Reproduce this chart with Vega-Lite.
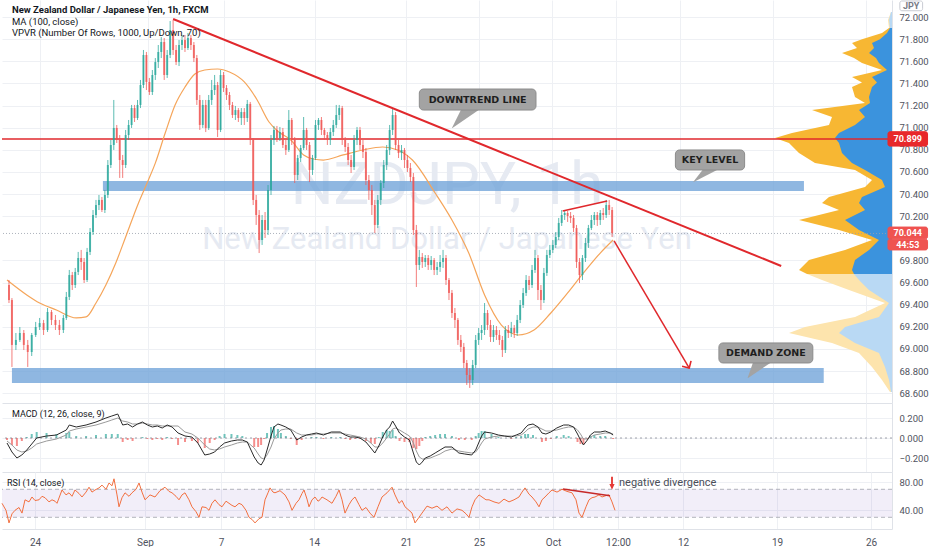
{
"$schema":"https://vega.github.io/schema/vega-lite/v6.json",
"padding":0,
"background":"#ffffff",
"spacing":0,
"config":{
 "view":{"stroke":null},
 "font":"Roboto",
 "axis":{"labelFont":"Roboto","labelFontSize":9.5,"labelColor":"#50535e","gridColor":"#eef0f4","gridWidth":1,"domainColor":"#dfe2e8","ticks":false,"labelOverlap":false,"title":null}
},
"datasets":{
"candles":[
{"t":2,"o":69.578,"h":69.623,"l":69.415,"c":69.442},
{"t":5,"o":69.442,"h":69.460,"l":68.837,"c":69.036},
{"t":9,"o":69.036,"h":69.144,"l":68.990,"c":69.081},
{"t":13,"o":69.081,"h":69.198,"l":69.063,"c":69.144},
{"t":17,"o":69.144,"h":69.171,"l":68.990,"c":69.036},
{"t":21,"o":69.036,"h":69.081,"l":68.837,"c":68.972},
{"t":25,"o":68.972,"h":69.144,"l":68.936,"c":69.126},
{"t":29,"o":69.126,"h":69.244,"l":69.108,"c":69.198},
{"t":33,"o":69.198,"h":69.280,"l":69.171,"c":69.234},
{"t":37,"o":69.234,"h":69.262,"l":69.126,"c":69.171},
{"t":41,"o":69.171,"h":69.370,"l":69.153,"c":69.334},
{"t":45,"o":69.334,"h":69.352,"l":69.216,"c":69.262},
{"t":49,"o":69.262,"h":69.307,"l":69.171,"c":69.216},
{"t":53,"o":69.216,"h":69.262,"l":69.126,"c":69.171},
{"t":57,"o":69.171,"h":69.307,"l":69.144,"c":69.280},
{"t":60,"o":69.280,"h":69.515,"l":69.262,"c":69.470},
{"t":63,"o":69.470,"h":69.714,"l":69.442,"c":69.668},
{"t":66,"o":69.668,"h":69.696,"l":69.533,"c":69.578},
{"t":69,"o":69.578,"h":69.732,"l":69.551,"c":69.696},
{"t":72,"o":69.696,"h":69.877,"l":69.668,"c":69.822},
{"t":75,"o":69.822,"h":69.895,"l":69.714,"c":69.786},
{"t":78,"o":69.786,"h":69.822,"l":69.596,"c":69.623},
{"t":81,"o":69.623,"h":69.913,"l":69.605,"c":69.877},
{"t":84,"o":69.877,"h":70.093,"l":69.849,"c":70.057},
{"t":87,"o":70.057,"h":70.256,"l":70.030,"c":70.211},
{"t":90,"o":70.211,"h":70.347,"l":70.184,"c":70.301},
{"t":93,"o":70.301,"h":70.392,"l":70.256,"c":70.347},
{"t":96,"o":70.347,"h":70.374,"l":70.238,"c":70.256},
{"t":99,"o":70.256,"h":70.437,"l":70.229,"c":70.392},
{"t":102,"o":70.392,"h":70.708,"l":70.365,"c":70.663},
{"t":105,"o":70.663,"h":70.889,"l":70.636,"c":70.844},
{"t":108,"o":70.844,"h":71.251,"l":70.799,"c":70.998},
{"t":111,"o":70.998,"h":71.025,"l":70.862,"c":70.889},
{"t":114,"o":70.889,"h":70.934,"l":70.546,"c":70.708},
{"t":117,"o":70.708,"h":70.754,"l":70.546,"c":70.663},
{"t":120,"o":70.663,"h":70.980,"l":70.636,"c":70.934},
{"t":123,"o":70.934,"h":71.070,"l":70.889,"c":71.025},
{"t":126,"o":71.025,"h":71.206,"l":70.998,"c":71.178},
{"t":129,"o":71.178,"h":71.206,"l":71.052,"c":71.088},
{"t":132,"o":71.088,"h":71.251,"l":71.070,"c":71.206},
{"t":135,"o":71.206,"h":71.432,"l":71.178,"c":71.386},
{"t":138,"o":71.386,"h":71.703,"l":71.359,"c":71.658},
{"t":141,"o":71.658,"h":71.685,"l":71.341,"c":71.414},
{"t":144,"o":71.414,"h":71.450,"l":71.296,"c":71.323},
{"t":147,"o":71.323,"h":71.522,"l":71.296,"c":71.477},
{"t":150,"o":71.477,"h":71.630,"l":71.432,"c":71.594},
{"t":153,"o":71.594,"h":71.748,"l":71.540,"c":71.685},
{"t":156,"o":71.685,"h":71.820,"l":71.630,"c":71.775},
{"t":159,"o":71.775,"h":71.811,"l":71.432,"c":71.477},
{"t":162,"o":71.477,"h":71.703,"l":71.450,"c":71.658},
{"t":165,"o":71.658,"h":71.965,"l":71.630,"c":71.884},
{"t":168,"o":71.884,"h":71.974,"l":71.658,"c":71.703},
{"t":171,"o":71.703,"h":71.748,"l":71.567,"c":71.594},
{"t":174,"o":71.594,"h":71.793,"l":71.558,"c":71.748},
{"t":177,"o":71.748,"h":71.839,"l":71.703,"c":71.793},
{"t":180,"o":71.793,"h":71.839,"l":71.685,"c":71.721},
{"t":183,"o":71.721,"h":71.857,"l":71.703,"c":71.811},
{"t":186,"o":71.811,"h":71.839,"l":71.703,"c":71.748},
{"t":189,"o":71.748,"h":71.775,"l":71.594,"c":71.630},
{"t":192,"o":71.630,"h":71.658,"l":71.206,"c":71.251},
{"t":195,"o":71.251,"h":71.296,"l":70.980,"c":71.025},
{"t":198,"o":71.025,"h":71.251,"l":70.998,"c":71.206},
{"t":201,"o":71.206,"h":71.251,"l":70.961,"c":70.998},
{"t":204,"o":70.998,"h":71.296,"l":70.980,"c":71.251},
{"t":207,"o":71.251,"h":71.432,"l":71.206,"c":71.341},
{"t":210,"o":71.341,"h":71.477,"l":71.296,"c":71.386},
{"t":213,"o":71.386,"h":71.414,"l":70.916,"c":70.980},
{"t":216,"o":70.980,"h":71.522,"l":70.961,"c":71.477},
{"t":219,"o":71.477,"h":71.504,"l":71.323,"c":71.359},
{"t":222,"o":71.359,"h":71.386,"l":71.251,"c":71.296},
{"t":225,"o":71.296,"h":71.323,"l":71.160,"c":71.206},
{"t":228,"o":71.206,"h":71.233,"l":71.088,"c":71.115},
{"t":231,"o":71.115,"h":71.197,"l":71.070,"c":71.160},
{"t":234,"o":71.160,"h":71.178,"l":71.052,"c":71.088},
{"t":237,"o":71.088,"h":71.178,"l":71.025,"c":71.142},
{"t":240,"o":71.142,"h":71.178,"l":71.025,"c":71.088},
{"t":243,"o":71.088,"h":71.251,"l":71.052,"c":71.215},
{"t":246,"o":71.215,"h":71.233,"l":70.844,"c":70.889},
{"t":249,"o":70.889,"h":70.907,"l":70.301,"c":70.347},
{"t":252,"o":70.347,"h":70.392,"l":70.121,"c":70.211},
{"t":255,"o":70.211,"h":70.256,"l":69.867,"c":69.985},
{"t":258,"o":69.985,"h":70.211,"l":69.940,"c":70.166},
{"t":261,"o":70.166,"h":70.238,"l":70.003,"c":70.075},
{"t":264,"o":70.075,"h":70.482,"l":70.030,"c":70.437},
{"t":267,"o":70.437,"h":70.934,"l":70.392,"c":70.889},
{"t":270,"o":70.889,"h":71.016,"l":70.844,"c":70.980},
{"t":273,"o":70.980,"h":71.016,"l":70.871,"c":70.907},
{"t":276,"o":70.907,"h":71.007,"l":70.880,"c":70.961},
{"t":279,"o":70.961,"h":70.998,"l":70.817,"c":70.844},
{"t":282,"o":70.844,"h":70.889,"l":70.754,"c":70.799},
{"t":285,"o":70.799,"h":71.160,"l":70.781,"c":71.070},
{"t":288,"o":71.070,"h":71.088,"l":70.844,"c":70.889},
{"t":291,"o":70.889,"h":70.916,"l":70.500,"c":70.573},
{"t":294,"o":70.573,"h":70.754,"l":70.527,"c":70.726},
{"t":297,"o":70.726,"h":70.844,"l":70.690,"c":70.817},
{"t":300,"o":70.817,"h":71.097,"l":70.799,"c":70.980},
{"t":303,"o":70.980,"h":70.998,"l":70.799,"c":70.844},
{"t":306,"o":70.844,"h":70.871,"l":70.509,"c":70.618},
{"t":309,"o":70.618,"h":70.754,"l":70.573,"c":70.726},
{"t":312,"o":70.726,"h":71.070,"l":70.708,"c":71.025},
{"t":315,"o":71.025,"h":71.088,"l":70.980,"c":71.070},
{"t":318,"o":71.070,"h":71.097,"l":70.934,"c":70.980},
{"t":321,"o":70.980,"h":70.998,"l":70.889,"c":70.934},
{"t":324,"o":70.934,"h":70.961,"l":70.844,"c":70.889},
{"t":327,"o":70.889,"h":70.998,"l":70.844,"c":70.961},
{"t":330,"o":70.961,"h":71.070,"l":70.925,"c":71.025},
{"t":333,"o":71.025,"h":71.206,"l":70.998,"c":71.115},
{"t":336,"o":71.115,"h":71.206,"l":71.070,"c":71.178},
{"t":339,"o":71.178,"h":71.197,"l":70.844,"c":70.889},
{"t":342,"o":70.889,"h":70.916,"l":70.781,"c":70.826},
{"t":345,"o":70.826,"h":70.862,"l":70.663,"c":70.708},
{"t":348,"o":70.708,"h":70.754,"l":70.591,"c":70.645},
{"t":351,"o":70.645,"h":70.934,"l":70.618,"c":70.889},
{"t":354,"o":70.889,"h":71.007,"l":70.844,"c":70.980},
{"t":357,"o":70.980,"h":71.007,"l":70.799,"c":70.844},
{"t":360,"o":70.844,"h":70.889,"l":70.726,"c":70.781},
{"t":363,"o":70.781,"h":70.817,"l":70.482,"c":70.527},
{"t":366,"o":70.527,"h":70.573,"l":70.347,"c":70.437},
{"t":369,"o":70.437,"h":70.482,"l":70.211,"c":70.301},
{"t":372,"o":70.301,"h":70.347,"l":70.048,"c":70.121},
{"t":375,"o":70.121,"h":70.392,"l":70.093,"c":70.347},
{"t":378,"o":70.347,"h":70.527,"l":70.301,"c":70.500},
{"t":381,"o":70.500,"h":70.708,"l":70.455,"c":70.663},
{"t":384,"o":70.663,"h":70.844,"l":70.618,"c":70.799},
{"t":387,"o":70.799,"h":71.025,"l":70.754,"c":70.980},
{"t":390,"o":70.980,"h":71.178,"l":70.934,"c":71.115},
{"t":393,"o":71.115,"h":71.142,"l":70.799,"c":70.844},
{"t":396,"o":70.844,"h":70.889,"l":70.726,"c":70.772},
{"t":399,"o":70.772,"h":70.844,"l":70.708,"c":70.799},
{"t":402,"o":70.799,"h":70.817,"l":70.636,"c":70.708},
{"t":405,"o":70.708,"h":70.754,"l":70.600,"c":70.636},
{"t":408,"o":70.636,"h":70.681,"l":70.509,"c":70.555},
{"t":411,"o":70.555,"h":70.591,"l":70.030,"c":70.075},
{"t":414,"o":70.075,"h":70.121,"l":69.560,"c":69.759},
{"t":417,"o":69.759,"h":69.895,"l":69.714,"c":69.831},
{"t":420,"o":69.831,"h":69.867,"l":69.732,"c":69.786},
{"t":423,"o":69.786,"h":69.849,"l":69.741,"c":69.822},
{"t":426,"o":69.822,"h":69.849,"l":69.714,"c":69.759},
{"t":429,"o":69.759,"h":69.840,"l":69.714,"c":69.804},
{"t":432,"o":69.804,"h":69.822,"l":69.668,"c":69.714},
{"t":435,"o":69.714,"h":69.786,"l":69.668,"c":69.741},
{"t":438,"o":69.741,"h":69.849,"l":69.696,"c":69.786},
{"t":441,"o":69.786,"h":69.895,"l":69.732,"c":69.822},
{"t":444,"o":69.822,"h":69.849,"l":69.578,"c":69.623},
{"t":447,"o":69.623,"h":69.641,"l":69.442,"c":69.506},
{"t":450,"o":69.506,"h":69.533,"l":69.280,"c":69.325},
{"t":453,"o":69.325,"h":69.370,"l":69.189,"c":69.262},
{"t":456,"o":69.262,"h":69.280,"l":69.036,"c":69.081},
{"t":459,"o":69.081,"h":69.126,"l":68.972,"c":69.018},
{"t":462,"o":69.018,"h":69.054,"l":68.827,"c":68.873},
{"t":465,"o":68.873,"h":68.900,"l":68.674,"c":68.764},
{"t":468,"o":68.764,"h":68.827,"l":68.647,"c":68.719},
{"t":471,"o":68.719,"h":68.900,"l":68.674,"c":68.855},
{"t":474,"o":68.855,"h":69.126,"l":68.827,"c":69.081},
{"t":477,"o":69.081,"h":69.189,"l":69.036,"c":69.144},
{"t":480,"o":69.144,"h":69.216,"l":69.081,"c":69.171},
{"t":483,"o":69.171,"h":69.415,"l":69.126,"c":69.325},
{"t":486,"o":69.325,"h":69.352,"l":69.171,"c":69.216},
{"t":489,"o":69.216,"h":69.262,"l":69.063,"c":69.108},
{"t":492,"o":69.108,"h":69.216,"l":69.063,"c":69.171},
{"t":495,"o":69.171,"h":69.207,"l":69.081,"c":69.126},
{"t":498,"o":69.126,"h":69.171,"l":69.036,"c":69.081},
{"t":501,"o":69.081,"h":69.117,"l":68.927,"c":68.990},
{"t":504,"o":68.990,"h":69.207,"l":68.963,"c":69.171},
{"t":507,"o":69.171,"h":69.216,"l":69.099,"c":69.144},
{"t":510,"o":69.144,"h":69.244,"l":69.108,"c":69.189},
{"t":513,"o":69.189,"h":69.216,"l":69.099,"c":69.144},
{"t":516,"o":69.144,"h":69.307,"l":69.117,"c":69.262},
{"t":519,"o":69.262,"h":69.442,"l":69.234,"c":69.397},
{"t":522,"o":69.397,"h":69.551,"l":69.370,"c":69.506},
{"t":525,"o":69.506,"h":69.668,"l":69.479,"c":69.623},
{"t":528,"o":69.623,"h":69.660,"l":69.533,"c":69.578},
{"t":531,"o":69.578,"h":69.759,"l":69.551,"c":69.714},
{"t":534,"o":69.714,"h":69.895,"l":69.687,"c":69.822},
{"t":537,"o":69.822,"h":69.849,"l":69.442,"c":69.533},
{"t":540,"o":69.533,"h":69.578,"l":69.352,"c":69.442},
{"t":543,"o":69.442,"h":69.732,"l":69.415,"c":69.687},
{"t":546,"o":69.687,"h":69.895,"l":69.660,"c":69.849},
{"t":549,"o":69.849,"h":69.940,"l":69.822,"c":69.895},
{"t":552,"o":69.895,"h":69.985,"l":69.867,"c":69.940},
{"t":555,"o":69.940,"h":70.057,"l":69.913,"c":70.012},
{"t":558,"o":70.012,"h":70.184,"l":69.985,"c":70.139},
{"t":561,"o":70.139,"h":70.256,"l":70.112,"c":70.211},
{"t":564,"o":70.211,"h":70.256,"l":70.166,"c":70.229},
{"t":567,"o":70.229,"h":70.247,"l":70.148,"c":70.202},
{"t":570,"o":70.202,"h":70.238,"l":70.139,"c":70.184},
{"t":573,"o":70.184,"h":70.211,"l":70.057,"c":70.093},
{"t":576,"o":70.093,"h":70.121,"l":69.732,"c":69.786},
{"t":579,"o":69.786,"h":69.822,"l":69.596,"c":69.668},
{"t":582,"o":69.668,"h":69.849,"l":69.623,"c":69.822},
{"t":585,"o":69.822,"h":70.003,"l":69.786,"c":69.958},
{"t":588,"o":69.958,"h":70.121,"l":69.913,"c":70.093},
{"t":591,"o":70.093,"h":70.211,"l":70.075,"c":70.166},
{"t":594,"o":70.166,"h":70.238,"l":70.121,"c":70.211},
{"t":597,"o":70.211,"h":70.238,"l":70.112,"c":70.166},
{"t":600,"o":70.166,"h":70.256,"l":70.121,"c":70.229},
{"t":603,"o":70.229,"h":70.274,"l":70.166,"c":70.211},
{"t":606,"o":70.211,"h":70.347,"l":70.184,"c":70.301},
{"t":609,"o":70.301,"h":70.347,"l":70.211,"c":70.256},
{"t":612,"o":70.256,"h":70.283,"l":70.012,"c":70.048}
],
"ma":[
{"t":0,"v":69.623},{"t":20,"v":69.488},{"t":33,"v":69.415},{"t":50,"v":69.352},{"t":70,"v":69.280},{"t":80,"v":69.289},{"t":90,"v":69.415},{"t":100,"v":69.578},{"t":110,"v":69.777},{"t":120,"v":70.012},{"t":133,"v":70.320},{"t":143,"v":70.527},{"t":150,"v":70.680},{"t":160,"v":70.952},{"t":170,"v":71.206},{"t":180,"v":71.368},{"t":190,"v":71.486},{"t":200,"v":71.522},{"t":213,"v":71.531},{"t":225,"v":71.504},{"t":240,"v":71.414},{"t":253,"v":71.251},{"t":265,"v":71.052},{"t":275,"v":70.961},{"t":287,"v":70.889},{"t":300,"v":70.754},{"t":310,"v":70.717},{"t":320,"v":70.708},{"t":340,"v":70.754},{"t":360,"v":70.799},{"t":380,"v":70.826},{"t":395,"v":70.799},{"t":410,"v":70.708},{"t":433,"v":70.410},{"t":450,"v":70.166},{"t":467,"v":69.867},{"t":483,"v":69.488},{"t":500,"v":69.216},{"t":510,"v":69.144},{"t":517,"v":69.126},{"t":533,"v":69.171},{"t":550,"v":69.325},{"t":567,"v":69.506},{"t":583,"v":69.687},{"t":600,"v":69.867},{"t":613,"v":69.985}
],
"vp":[
{"p":72.047,"up":1,"tot":1,"seg":"top"},{"p":71.974,"up":3,"tot":4,"seg":"top"},{"p":71.902,"up":2,"tot":3,"seg":"top"},
{"p":71.902,"up":2,"tot":3,"seg":"va"},{"p":71.857,"up":5,"tot":10,"seg":"va"},{"p":71.80,"up":12,"tot":30,"seg":"va"},{"p":71.766,"up":20,"tot":40,"seg":"va"},{"p":71.72,"up":18,"tot":35,"seg":"va"},{"p":71.676,"up":23,"tot":50,"seg":"va"},{"p":71.63,"up":16,"tot":38,"seg":"va"},{"p":71.585,"up":13,"tot":30,"seg":"va"},{"p":71.522,"up":5,"tot":10,"seg":"va"},{"p":71.459,"up":20,"tot":40,"seg":"va"},{"p":71.41,"up":15,"tot":30,"seg":"va"},{"p":71.368,"up":20,"tot":40,"seg":"va"},{"p":71.278,"up":23,"tot":37,"seg":"va"},{"p":71.224,"up":22,"tot":27,"seg":"va"},{"p":71.160,"up":33,"tot":80,"seg":"va"},{"p":71.097,"up":27,"tot":60,"seg":"va"},{"p":71.025,"up":37,"tot":63,"seg":"va"},{"p":70.952,"up":53,"tot":100,"seg":"va"},{"p":70.907,"up":57,"tot":117,"seg":"va"},{"p":70.862,"up":53,"tot":103,"seg":"va"},{"p":70.772,"up":50,"tot":93,"seg":"va"},{"p":70.681,"up":40,"tot":77,"seg":"va"},{"p":70.618,"up":27,"tot":37,"seg":"va"},{"p":70.527,"up":10,"tot":20,"seg":"va"},{"p":70.464,"up":7,"tot":27,"seg":"va"},{"p":70.374,"up":30,"tot":63,"seg":"va"},{"p":70.320,"up":33,"tot":70,"seg":"va"},{"p":70.256,"up":27,"tot":53,"seg":"va"},{"p":70.166,"up":47,"tot":93,"seg":"va"},{"p":70.075,"up":33,"tot":53,"seg":"va"},{"p":69.985,"up":13,"tot":20,"seg":"va"},{"p":69.895,"up":23,"tot":47,"seg":"va"},{"p":69.804,"up":37,"tot":83,"seg":"va"},{"p":69.714,"up":40,"tot":93,"seg":"va"},{"p":69.678,"up":38,"tot":85,"seg":"va"},
{"p":69.678,"up":38,"tot":85,"seg":"low"},{"p":69.623,"up":33,"tot":70,"seg":"low"},{"p":69.533,"up":23,"tot":43,"seg":"low"},{"p":69.415,"up":3,"tot":7,"seg":"low"},{"p":69.289,"up":13,"tot":37,"seg":"low"},{"p":69.198,"up":47,"tot":87,"seg":"low"},{"p":69.144,"up":53,"tot":103,"seg":"low"},{"p":69.054,"up":37,"tot":60,"seg":"low"},{"p":68.963,"up":13,"tot":33,"seg":"low"},{"p":68.837,"up":7,"tot":20,"seg":"low"},{"p":68.719,"up":3,"tot":10,"seg":"low"},{"p":68.611,"up":1,"tot":2,"seg":"low"}
],
"zones":[{"t0":97,"t1":806,"p0":70.518,"p1":70.428},{"t0":5,"t1":826,"p0":68.828,"p1":68.692}],
"segs":[{"k":"trend","t0":168,"p0":71.983,"t1":783,"p1":69.750},{"k":"thin","t0":562,"p0":70.247,"t1":607,"p1":70.338},{"k":"thin","t0":614,"p0":69.976,"t1":690,"p1":68.827}],
"arrowhead":[{"t":690,"p":68.827}],
"boxes":[
{"t0":417,"t1":535,"p0":71.350,"p1":71.160,"tc":476,"pc":71.255,"label":"DOWNTREND LINE"},
{"t0":676,"t1":746,"p0":70.799,"p1":70.618,"tc":711,"pc":70.708,"label":"KEY LEVEL"},
{"t0":720,"t1":815,"p0":69.054,"p1":68.873,"tc":767.5,"pc":68.963,"label":"DEMAND ZONE"}
],
"pointers":[
{"id":"a","p":71.178,"a":460,"b":480},{"id":"a","p":70.998,"a":450,"b":450.5},
{"id":"b","p":70.636,"a":705,"b":722},{"id":"b","p":70.509,"a":694,"b":694.5},
{"id":"c","p":68.891,"a":755,"b":775},{"id":"c","p":68.737,"a":749,"b":749.5}
],
"legend":[
{"n":1,"t":5,"p":72.065,"text":"New Zealand Dollar / Japanese Yen, 1h, FXCM"},
{"n":2,"t":5,"p":71.959,"text":"MA (100, close)"},
{"n":3,"t":5,"p":71.859,"text":"VPVR (Number Of Rows, 1000, Up/Down, 70)"}
],
"watermark":[
{"n":1,"t":445,"p":70.473,"text":"NZDJPY, 1h"},
{"n":2,"t":445,"p":69.985,"text":"New Zealand Dollar / Japanese Yen"}
],
"pricetags":[
{"t0":891,"t1":931,"p0":70.964,"p1":70.834,"tc":911,"pc":70.899,"label":"70.899","k":"a"},
{"t0":891,"t1":931,"p0":70.102,"p1":69.996,"tc":911,"pc":70.048,"label":"70.044","k":"b"},
{"t0":891,"t1":931,"p0":69.992,"p1":69.895,"tc":911,"pc":69.944,"label":"44:53","k":"b"},
{"t0":903,"t1":926,"p0":72.146,"p1":72.058,"tc":914.5,"pc":72.102,"label":"JPY","k":"c"}
],
"macd":[
{"t":0,"m":-0.05,"s":-0.03,"h":-0.02},{"t":5,"m":-0.14,"s":-0.07,"h":-0.07},{"t":10,"m":-0.20,"s":-0.12,"h":-0.08},{"t":15,"m":-0.17,"s":-0.14,"h":-0.03},{"t":20,"m":-0.12,"s":-0.13,"h":0.01},{"t":25,"m":-0.06,"s":-0.10,"h":0.04},{"t":30,"m":0.00,"s":-0.06,"h":0.06},{"t":40,"m":0.02,"s":-0.03,"h":0.05},{"t":50,"m":0.03,"s":-0.01,"h":0.04},{"t":60,"m":0.08,"s":0.03,"h":0.05},{"t":63,"m":0.13,"s":0.07,"h":0.06},{"t":70,"m":0.11,"s":0.09,"h":0.02},{"t":80,"m":0.13,"s":0.11,"h":0.02},{"t":90,"m":0.16,"s":0.13,"h":0.03},{"t":100,"m":0.20,"s":0.16,"h":0.04},{"t":106,"m":0.22,"s":0.18,"h":0.04},{"t":112,"m":0.24,"s":0.20,"h":0.04},{"t":117,"m":0.13,"s":0.17,"h":-0.04},{"t":122,"m":0.14,"s":0.16,"h":-0.02},{"t":127,"m":0.11,"s":0.14,"h":-0.03},{"t":132,"m":0.14,"s":0.14,"h":0.00},{"t":137,"m":0.16,"s":0.15,"h":0.01},{"t":142,"m":0.13,"s":0.14,"h":-0.01},{"t":147,"m":0.11,"s":0.13,"h":-0.02},{"t":152,"m":0.12,"s":0.13,"h":-0.01},{"t":157,"m":0.10,"s":0.12,"h":-0.02},{"t":162,"m":0.13,"s":0.12,"h":0.01},{"t":167,"m":0.11,"s":0.12,"h":-0.01},{"t":173,"m":0.05,"s":0.12,"h":-0.07},{"t":180,"m":0.02,"s":0.06,"h":-0.04},{"t":187,"m":0.01,"s":0.04,"h":-0.03},{"t":193,"m":-0.05,"s":0.00,"h":-0.05},{"t":200,"m":-0.17,"s":-0.07,"h":-0.10},{"t":205,"m":-0.16,"s":-0.11,"h":-0.05},{"t":210,"m":-0.14,"s":-0.12,"h":-0.02},{"t":215,"m":-0.09,"s":-0.11,"h":0.02},{"t":220,"m":-0.05,"s":-0.09,"h":0.04},{"t":227,"m":-0.03,"s":-0.07,"h":0.04},{"t":233,"m":-0.02,"s":-0.05,"h":0.03},{"t":238,"m":-0.02,"s":-0.04,"h":0.02},{"t":243,"m":-0.04,"s":-0.04,"h":0.00},{"t":250,"m":-0.19,"s":-0.10,"h":-0.09},{"t":254,"m":-0.25,"s":-0.16,"h":-0.09},{"t":257,"m":-0.27,"s":-0.20,"h":-0.07},{"t":260,"m":-0.22,"s":-0.21,"h":-0.01},{"t":263,"m":-0.12,"s":-0.17,"h":0.05},{"t":267,"m":0.02,"s":-0.09,"h":0.11},{"t":270,"m":0.11,"s":-0.01,"h":0.12},{"t":274,"m":0.14,"s":0.05,"h":0.09},{"t":277,"m":0.13,"s":0.08,"h":0.05},{"t":282,"m":0.11,"s":0.09,"h":0.02},{"t":287,"m":0.08,"s":0.09,"h":-0.01},{"t":293,"m":-0.02,"s":0.05,"h":-0.07},{"t":298,"m":0.01,"s":0.03,"h":-0.02},{"t":303,"m":0.03,"s":0.03,"h":0.00},{"t":308,"m":0.04,"s":0.03,"h":0.01},{"t":313,"m":0.05,"s":0.04,"h":0.01},{"t":320,"m":0.03,"s":0.04,"h":-0.01},{"t":328,"m":0.06,"s":0.05,"h":0.01},{"t":337,"m":0.06,"s":0.05,"h":0.01},{"t":342,"m":0.03,"s":0.04,"h":-0.01},{"t":347,"m":0.01,"s":0.03,"h":-0.02},{"t":352,"m":0.01,"s":0.02,"h":-0.01},{"t":357,"m":0.00,"s":0.01,"h":-0.01},{"t":363,"m":-0.04,"s":-0.01,"h":-0.03},{"t":368,"m":-0.10,"s":-0.05,"h":-0.05},{"t":372,"m":-0.15,"s":-0.09,"h":-0.06},{"t":376,"m":-0.08,"s":-0.09,"h":0.01},{"t":380,"m":0.01,"s":-0.05,"h":0.06},{"t":384,"m":0.08,"s":0.00,"h":0.08},{"t":387,"m":0.11,"s":0.04,"h":0.07},{"t":390,"m":0.17,"s":0.09,"h":0.08},{"t":393,"m":0.12,"s":0.10,"h":0.02},{"t":397,"m":0.05,"s":0.08,"h":-0.03},{"t":402,"m":0.01,"s":0.05,"h":-0.04},{"t":407,"m":-0.02,"s":0.02,"h":-0.04},{"t":411,"m":-0.15,"s":-0.05,"h":-0.10},{"t":414,"m":-0.24,"s":-0.13,"h":-0.11},{"t":417,"m":-0.27,"s":-0.19,"h":-0.08},{"t":420,"m":-0.24,"s":-0.21,"h":-0.03},{"t":423,"m":-0.20,"s":-0.21,"h":0.01},{"t":428,"m":-0.18,"s":-0.20,"h":0.02},{"t":433,"m":-0.15,"s":-0.18,"h":0.03},{"t":438,"m":-0.12,"s":-0.16,"h":0.04},{"t":443,"m":-0.09,"s":-0.13,"h":0.04},{"t":450,"m":-0.09,"s":-0.11,"h":0.02},{"t":457,"m":-0.15,"s":-0.13,"h":-0.02},{"t":463,"m":-0.16,"s":-0.14,"h":-0.02},{"t":470,"m":-0.17,"s":-0.15,"h":-0.02},{"t":474,"m":-0.12,"s":-0.14,"h":0.02},{"t":477,"m":-0.05,"s":-0.10,"h":0.05},{"t":480,"m":0.02,"s":-0.05,"h":0.07},{"t":483,"m":0.06,"s":-0.01,"h":0.07},{"t":490,"m":0.05,"s":0.01,"h":0.04},{"t":497,"m":0.03,"s":0.02,"h":0.01},{"t":503,"m":0.02,"s":0.02,"h":0.00},{"t":510,"m":0.01,"s":0.02,"h":-0.01},{"t":515,"m":0.03,"s":0.02,"h":0.01},{"t":520,"m":0.05,"s":0.03,"h":0.02},{"t":524,"m":0.10,"s":0.06,"h":0.04},{"t":527,"m":0.13,"s":0.09,"h":0.04},{"t":532,"m":0.14,"s":0.11,"h":0.03},{"t":537,"m":0.11,"s":0.11,"h":0.00},{"t":541,"m":0.05,"s":0.09,"h":-0.04},{"t":545,"m":0.04,"s":0.07,"h":-0.03},{"t":550,"m":0.06,"s":0.07,"h":-0.01},{"t":556,"m":0.10,"s":0.08,"h":0.02},{"t":563,"m":0.13,"s":0.10,"h":0.03},{"t":568,"m":0.13,"s":0.11,"h":0.02},{"t":573,"m":0.11,"s":0.11,"h":0.00},{"t":577,"m":0.04,"s":0.08,"h":-0.04},{"t":580,"m":-0.02,"s":0.04,"h":-0.06},{"t":583,"m":-0.07,"s":-0.01,"h":-0.06},{"t":587,"m":-0.02,"s":-0.01,"h":-0.01},{"t":590,"m":0.03,"s":0.01,"h":0.02},{"t":594,"m":0.06,"s":0.03,"h":0.03},{"t":600,"m":0.06,"s":0.04,"h":0.02},{"t":605,"m":0.07,"s":0.05,"h":0.02},{"t":610,"m":0.05,"s":0.05,"h":0.00},{"t":613,"m":0.03,"s":0.04,"h":-0.01}
],
"rsi":[
{"t":0,"r":50},{"t":4,"r":40},{"t":7,"r":22},{"t":10,"r":35},{"t":13,"r":40},{"t":17,"r":44},{"t":20,"r":36},{"t":23,"r":55},{"t":27,"r":52},{"t":30,"r":59},{"t":33,"r":54},{"t":37,"r":55},{"t":40,"r":60},{"t":43,"r":58},{"t":47,"r":52},{"t":50,"r":55},{"t":53,"r":53},{"t":55,"r":50},{"t":60,"r":69},{"t":64,"r":62},{"t":67,"r":65},{"t":70,"r":60},{"t":73,"r":69},{"t":77,"r":64},{"t":80,"r":59},{"t":84,"r":66},{"t":87,"r":73},{"t":90,"r":66},{"t":93,"r":69},{"t":97,"r":72},{"t":100,"r":76},{"t":104,"r":70},{"t":107,"r":79},{"t":110,"r":75},{"t":112,"r":85},{"t":115,"r":62},{"t":117,"r":45},{"t":120,"r":58},{"t":123,"r":65},{"t":127,"r":60},{"t":130,"r":65},{"t":134,"r":70},{"t":137,"r":79},{"t":140,"r":66},{"t":143,"r":55},{"t":148,"r":62},{"t":153,"r":59},{"t":158,"r":68},{"t":163,"r":73},{"t":167,"r":67},{"t":170,"r":65},{"t":174,"r":60},{"t":177,"r":55},{"t":180,"r":62},{"t":183,"r":65},{"t":187,"r":55},{"t":190,"r":45},{"t":194,"r":38},{"t":197,"r":30},{"t":200,"r":45},{"t":204,"r":44},{"t":207,"r":40},{"t":210,"r":50},{"t":213,"r":55},{"t":217,"r":48},{"t":220,"r":45},{"t":224,"r":53},{"t":227,"r":50},{"t":230,"r":47},{"t":233,"r":45},{"t":237,"r":50},{"t":240,"r":48},{"t":244,"r":40},{"t":247,"r":30},{"t":250,"r":27},{"t":253,"r":22},{"t":257,"r":28},{"t":260,"r":30},{"t":263,"r":55},{"t":266,"r":65},{"t":268,"r":72},{"t":271,"r":66},{"t":273,"r":65},{"t":278,"r":68},{"t":283,"r":62},{"t":287,"r":52},{"t":290,"r":40},{"t":294,"r":50},{"t":297,"r":55},{"t":300,"r":64},{"t":302,"r":69},{"t":305,"r":56},{"t":307,"r":45},{"t":310,"r":55},{"t":313,"r":59},{"t":316,"r":53},{"t":318,"r":55},{"t":320,"r":59},{"t":325,"r":55},{"t":330,"r":50},{"t":334,"r":60},{"t":337,"r":69},{"t":340,"r":55},{"t":343,"r":36},{"t":347,"r":48},{"t":350,"r":55},{"t":353,"r":59},{"t":357,"r":48},{"t":360,"r":40},{"t":364,"r":44},{"t":368,"r":36},{"t":372,"r":30},{"t":376,"r":45},{"t":380,"r":59},{"t":385,"r":65},{"t":390,"r":73},{"t":393,"r":62},{"t":397,"r":50},{"t":400,"r":54},{"t":403,"r":45},{"t":407,"r":40},{"t":410,"r":36},{"t":413,"r":22},{"t":417,"r":30},{"t":420,"r":36},{"t":425,"r":46},{"t":430,"r":43},{"t":435,"r":46},{"t":440,"r":40},{"t":445,"r":45},{"t":450,"r":36},{"t":455,"r":42},{"t":460,"r":40},{"t":464,"r":35},{"t":467,"r":30},{"t":470,"r":45},{"t":473,"r":55},{"t":477,"r":62},{"t":480,"r":59},{"t":484,"r":55},{"t":487,"r":55},{"t":492,"r":52},{"t":497,"r":50},{"t":502,"r":56},{"t":507,"r":52},{"t":512,"r":55},{"t":517,"r":59},{"t":520,"r":66},{"t":523,"r":72},{"t":527,"r":63},{"t":530,"r":59},{"t":534,"r":52},{"t":537,"r":45},{"t":540,"r":55},{"t":543,"r":59},{"t":547,"r":65},{"t":550,"r":69},{"t":555,"r":66},{"t":560,"r":70},{"t":565,"r":67},{"t":570,"r":65},{"t":574,"r":55},{"t":577,"r":36},{"t":580,"r":30},{"t":584,"r":45},{"t":587,"r":55},{"t":590,"r":58},{"t":593,"r":59},{"t":597,"r":62},{"t":600,"r":59},{"t":604,"r":61},{"t":607,"r":62},{"t":610,"r":52},{"t":613,"r":40}
],
"rsidiv":[{"t0":561,"r0":70.4,"t1":608,"r1":60.9}],
"rsinote":[{"t":610,"r":78.6,"text":"negative divergence"}]
},
"vconcat":[
{
"width":890,"height":403,
"layer":[
 {"data":{"name":"vp"},
  "layer":[
   {"transform":[{"filter":"datum.seg=='va'"}],
    "mark":{"type":"area","orient":"horizontal","color":"#f7b733","opacity":1},
    "encoding":{
     "y":{"field":"p","type":"quantitative","scale":{"domain":[68.511,72.155],"nice":false,"zero":false},
          "axis":{"orient":"right","values":[68.6,68.8,69,69.2,69.4,69.6,69.8,70.2,70.4,70.6,70.8,71,71.2,71.4,71.6,71.8,72],"tickCount":40,"format":".3f","grid":true,"domain":true,"labelPadding":7,"labelOverlap":false,"labelBound":false,"labelFlush":false,"minExtent":42,"maxExtent":42}},
     "x":{"field":"tot","type":"quantitative","scale":{"domain":[0,890],"reverse":true,"nice":false,"zero":false},"axis":null},
     "x2":{"datum":0}}},
   {"transform":[{"filter":"datum.seg=='va'"}],
    "mark":{"type":"area","orient":"horizontal","color":"#3b93dd","opacity":1},
    "encoding":{
     "y":{"field":"p","type":"quantitative","scale":{"domain":[68.511,72.155],"nice":false,"zero":false}},
     "x":{"field":"up","type":"quantitative","scale":{"domain":[0,890],"reverse":true,"nice":false,"zero":false},"axis":null},
     "x2":{"datum":0}}},
   {"transform":[{"filter":"datum.seg!='va'"}],
    "mark":{"type":"area","orient":"horizontal","color":"#fde4ad","opacity":1},
    "encoding":{
     "y":{"field":"p","type":"quantitative","scale":{"domain":[68.511,72.155],"nice":false,"zero":false}},
     "x":{"field":"tot","type":"quantitative","scale":{"domain":[0,890],"reverse":true,"nice":false,"zero":false},"axis":null},
     "x2":{"datum":0},
     "detail":{"field":"seg"}}},
   {"transform":[{"filter":"datum.seg!='va'"}],
    "mark":{"type":"area","orient":"horizontal","color":"#b9d9f4","opacity":1},
    "encoding":{
     "y":{"field":"p","type":"quantitative","scale":{"domain":[68.511,72.155],"nice":false,"zero":false}},
     "x":{"field":"up","type":"quantitative","scale":{"domain":[0,890],"reverse":true,"nice":false,"zero":false},"axis":null},
     "x2":{"datum":0},
     "detail":{"field":"seg"}}}
  ]},
 {"layer":[
   {"data":{"name":"watermark"},"transform":[{"filter":"datum.n==1"}],
    "mark":{"type":"text","font":"Roboto","fontSize":60,"color":"#e6eaf2","align":"center","baseline":"middle"},
    "encoding":{
     "x":{"field":"t","type":"quantitative","scale":{"domain":[0,890],"nice":false,"zero":false},
          "axis":{"values":[33,143,219,312,404,477,551,616,681,775,869],"tickCount":40,"labels":false,"ticks":false,"grid":true,"domain":true,"minExtent":0,"maxExtent":1}},
     "y":{"field":"p","type":"quantitative","scale":{"domain":[68.511,72.155],"nice":false,"zero":false},
          "axis":{"orient":"right","values":[68.6,68.8,69,69.2,69.4,69.6,69.8,70.2,70.4,70.6,70.8,71,71.2,71.4,71.6,71.8,72],"tickCount":40,"format":".3f","grid":true,"domain":true,"labelPadding":7,"labelOverlap":false,"labelBound":false,"labelFlush":false,"minExtent":42,"maxExtent":42}},
     "text":{"field":"text"}}},
   {"data":{"name":"watermark"},"transform":[{"filter":"datum.n==2"}],
    "mark":{"type":"text","font":"Roboto","fontSize":31,"color":"#e6eaf2","align":"center","baseline":"middle"},
    "encoding":{
     "x":{"field":"t","type":"quantitative","scale":{"domain":[0,890],"nice":false,"zero":false}},
     "y":{"field":"p","type":"quantitative","scale":{"domain":[68.511,72.155],"nice":false,"zero":false}},
     "text":{"field":"text"}}},
   {"data":{"name":"zones"},
    "mark":{"type":"rect","color":"#6fa3d8","opacity":0.78},
    "encoding":{
     "x":{"field":"t0","type":"quantitative","scale":{"domain":[0,890],"nice":false,"zero":false}},
     "x2":{"field":"t1"},
     "y":{"field":"p0","type":"quantitative","scale":{"domain":[68.511,72.155],"nice":false,"zero":false}},
     "y2":{"field":"p1"}}},
   {"data":{"values":[{}]},
    "mark":{"type":"rule","color":"#e0282c","strokeWidth":1.5},
    "encoding":{"y":{"datum":70.899,"type":"quantitative","scale":{"domain":[68.511,72.155],"nice":false,"zero":false}}}},
   {"data":{"values":[{}]},
    "mark":{"type":"rule","color":"#9aa0ab","strokeWidth":1,"strokeDash":[1,2],"opacity":0.8},
    "encoding":{"y":{"datum":70.044,"type":"quantitative","scale":{"domain":[68.511,72.155],"nice":false,"zero":false}}}},
   {"data":{"name":"ma"},
    "mark":{"type":"line","color":"#f5a55a","strokeWidth":1.2,"interpolate":"monotone"},
    "encoding":{
     "x":{"field":"t","type":"quantitative","scale":{"domain":[0,890],"nice":false,"zero":false}},
     "y":{"field":"v","type":"quantitative","scale":{"domain":[68.511,72.155],"nice":false,"zero":false}}}},
   {"data":{"name":"candles"},
    "mark":{"type":"rule","strokeWidth":1,"opacity":0.75},
    "encoding":{
     "x":{"field":"t","type":"quantitative","scale":{"domain":[0,890],"nice":false,"zero":false}},
     "y":{"field":"l","type":"quantitative","scale":{"domain":[68.511,72.155],"nice":false,"zero":false}},
     "y2":{"field":"h"},
     "color":{"condition":{"test":"datum.c>=datum.o","value":"#26a69a"},"value":"#ef5350"}}},
   {"data":{"name":"candles"},
    "mark":{"type":"bar","width":2,"opacity":0.75},
    "encoding":{
     "x":{"field":"t","type":"quantitative","scale":{"domain":[0,890],"nice":false,"zero":false}},
     "y":{"field":"o","type":"quantitative","scale":{"domain":[68.511,72.155],"nice":false,"zero":false}},
     "y2":{"field":"c"},
     "color":{"condition":{"test":"datum.c>=datum.o","value":"#26a69a"},"value":"#ef5350"}}},
   {"data":{"name":"segs"},"transform":[{"filter":"datum.k=='trend'"}],
    "mark":{"type":"rule","color":"#e0282c","strokeWidth":2},
    "encoding":{
     "x":{"field":"t0","type":"quantitative","scale":{"domain":[0,890],"nice":false,"zero":false}},
     "x2":{"field":"t1"},
     "y":{"field":"p0","type":"quantitative","scale":{"domain":[68.511,72.155],"nice":false,"zero":false}},
     "y2":{"field":"p1"}}},
   {"data":{"name":"segs"},"transform":[{"filter":"datum.k=='thin'"}],
    "mark":{"type":"rule","color":"#e0282c","strokeWidth":1.5},
    "encoding":{
     "x":{"field":"t0","type":"quantitative","scale":{"domain":[0,890],"nice":false,"zero":false}},
     "x2":{"field":"t1"},
     "y":{"field":"p0","type":"quantitative","scale":{"domain":[68.511,72.155],"nice":false,"zero":false}},
     "y2":{"field":"p1"}}},
   {"data":{"name":"arrowhead"},
    "mark":{"type":"point","shape":"M-1,-1L0,0L1,-1","angle":329,"size":110,"filled":false,"color":"#e0282c","strokeWidth":1.6,"opacity":1},
    "encoding":{
     "x":{"field":"t","type":"quantitative","scale":{"domain":[0,890],"nice":false,"zero":false}},
     "y":{"field":"p","type":"quantitative","scale":{"domain":[68.511,72.155],"nice":false,"zero":false}}}},
   {"data":{"name":"pointers"},
    "mark":{"type":"area","orient":"horizontal","color":"#a3a3a3"},
    "encoding":{
     "y":{"field":"p","type":"quantitative","scale":{"domain":[68.511,72.155],"nice":false,"zero":false}},
     "x":{"field":"a","type":"quantitative","scale":{"domain":[0,890],"nice":false,"zero":false}},
     "x2":{"field":"b"},
     "detail":{"field":"id"}}},
   {"data":{"name":"boxes"},
    "mark":{"type":"rect","color":"#a3a3a3","stroke":"#8c8c8c","strokeWidth":1,"cornerRadius":4},
    "encoding":{
     "x":{"field":"t0","type":"quantitative","scale":{"domain":[0,890],"nice":false,"zero":false}},
     "x2":{"field":"t1"},
     "y":{"field":"p0","type":"quantitative","scale":{"domain":[68.511,72.155],"nice":false,"zero":false}},
     "y2":{"field":"p1"}}},
   {"data":{"name":"boxes"},
    "mark":{"type":"text","font":"DejaVu Sans","fontSize":9.5,"fontWeight":"bold","color":"#1e1e1e","align":"center","baseline":"middle"},
    "encoding":{
     "x":{"field":"tc","type":"quantitative","scale":{"domain":[0,890],"nice":false,"zero":false}},
     "y":{"field":"pc","type":"quantitative","scale":{"domain":[68.511,72.155],"nice":false,"zero":false}},
     "text":{"field":"label"}}},
   {"data":{"name":"legend"},"transform":[{"filter":"datum.n==1"}],
    "mark":{"type":"text","font":"Roboto","fontSize":9.5,"fontWeight":"bold","color":"#131722","align":"left","baseline":"middle"},
    "encoding":{
     "x":{"field":"t","type":"quantitative","scale":{"domain":[0,890],"nice":false,"zero":false}},
     "y":{"field":"p","type":"quantitative","scale":{"domain":[68.511,72.155],"nice":false,"zero":false}},
     "text":{"field":"text"}}},
   {"data":{"name":"legend"},"transform":[{"filter":"datum.n>1"}],
    "mark":{"type":"text","font":"Roboto","fontSize":9.5,"color":"#131722","align":"left","baseline":"middle"},
    "encoding":{
     "x":{"field":"t","type":"quantitative","scale":{"domain":[0,890],"nice":false,"zero":false}},
     "y":{"field":"p","type":"quantitative","scale":{"domain":[68.511,72.155],"nice":false,"zero":false}},
     "text":{"field":"text"}}},
   {"data":{"name":"pricetags"},
    "mark":{"type":"rect","strokeWidth":1,"cornerRadius":2},
    "encoding":{
     "x":{"field":"t0","type":"quantitative","scale":{"domain":[0,890],"nice":false,"zero":false}},
     "x2":{"field":"t1"},
     "y":{"field":"p0","type":"quantitative","scale":{"domain":[68.511,72.155],"nice":false,"zero":false}},
     "y2":{"field":"p1"},
     "fill":{"field":"k","type":"nominal","scale":{"domain":["a","b","c"],"range":["#e8282b","#ef5350","#ffffff"]},"legend":null},
     "stroke":{"field":"k","type":"nominal","scale":{"domain":["a","b","c"],"range":["#e8282b","#ef5350","#c9ccd3"]},"legend":null}}},
   {"data":{"name":"pricetags"},
    "mark":{"type":"text","font":"Roboto","fontSize":9,"fontWeight":"bold","align":"center","baseline":"middle"},
    "encoding":{
     "x":{"field":"tc","type":"quantitative","scale":{"domain":[0,890],"nice":false,"zero":false}},
     "y":{"field":"pc","type":"quantitative","scale":{"domain":[68.511,72.155],"nice":false,"zero":false}},
     "text":{"field":"label"},
     "color":{"field":"k","type":"nominal","scale":{"domain":["a","b","c"],"range":["#ffffff","#ffffff","#787b86"]},"legend":null}}}
 ]}
],
"resolve":{"scale":{"x":"independent"}}
},
{
"width":890,"height":69,
"layer":[
 {"data":{"name":"macd"},
  "mark":{"type":"bar","width":2,"opacity":0.65},
  "encoding":{
   "x":{"field":"t","type":"quantitative","scale":{"domain":[0,890],"nice":false,"zero":false},
        "axis":{"values":[33,143,219,312,404,477,551,616,681,775,869],"tickCount":40,"labels":false,"ticks":false,"grid":true,"domain":true,"minExtent":0,"maxExtent":1}},
   "y":{"field":"h","type":"quantitative","scale":{"domain":[-0.34,0.35],"nice":false,"zero":false},
        "axis":{"orient":"right","values":[-0.2,0,0.2],"tickCount":10,"format":".3f","grid":true,"domain":true,"labelPadding":7,"labelOverlap":false,"minExtent":42,"maxExtent":42}},
   "y2":{"datum":0},
   "color":{"condition":{"test":"datum.h>=0","value":"#26a69a"},"value":"#ef5350"}}},
 {"data":{"values":[{}]},
  "mark":{"type":"rule","color":"#787b86","strokeDash":[2,3],"opacity":0.7},
  "encoding":{"y":{"datum":0,"type":"quantitative","scale":{"domain":[-0.34,0.35],"nice":false,"zero":false}}}},
 {"data":{"name":"macd"},
  "mark":{"type":"line","color":"#9a9a9a","strokeWidth":1},
  "encoding":{
   "x":{"field":"t","type":"quantitative","scale":{"domain":[0,890],"nice":false,"zero":false}},
   "y":{"field":"s","type":"quantitative","scale":{"domain":[-0.34,0.35],"nice":false,"zero":false}}}},
 {"data":{"name":"macd"},
  "mark":{"type":"line","color":"#2a2a2a","strokeWidth":1},
  "encoding":{
   "x":{"field":"t","type":"quantitative","scale":{"domain":[0,890],"nice":false,"zero":false}},
   "y":{"field":"m","type":"quantitative","scale":{"domain":[-0.34,0.35],"nice":false,"zero":false}}}},
 {"data":{"values":[{"t":5,"m":0.24,"text":"MACD (12, 26, close, 9)"}]},
  "mark":{"type":"text","font":"Roboto","fontSize":9,"color":"#131722","align":"left","baseline":"middle"},
  "encoding":{
   "x":{"field":"t","type":"quantitative","scale":{"domain":[0,890],"nice":false,"zero":false}},
   "y":{"field":"m","type":"quantitative","scale":{"domain":[-0.34,0.35],"nice":false,"zero":false}},
   "text":{"field":"text"}}}
]
},
{
"width":890,"height":57,
"layer":[
 {"data":{"values":[{}]},
  "mark":{"type":"rect","color":"#7e57c2","opacity":0.1},
  "encoding":{
   "x":{"datum":0,"type":"quantitative","scale":{"domain":[0,890],"nice":false,"zero":false},
        "axis":{"values":[33,143,219,312,404,477,551,616,681,775,869],"tickCount":40,"labels":true,"ticks":false,"grid":true,"domain":true,"labelPadding":8,"labelFontSize":10,"labelFlush":false,"labelOverlap":false,
                "labelExpr":"datum.value==33?'24':datum.value==143?'Sep':datum.value==219?'7':datum.value==312?'14':datum.value==404?'21':datum.value==477?'25':datum.value==551?'Oct':datum.value==616?'12:00':datum.value==681?'12':datum.value==775?'19':'26'"}},
   "x2":{"datum":890},
   "y":{"datum":30,"type":"quantitative","scale":{"domain":[13.3,94.7],"nice":false,"zero":false},
        "axis":{"orient":"right","values":[40,80],"tickCount":10,"format":".2f","grid":true,"domain":true,"labelPadding":7,"labelOverlap":false,"minExtent":42,"maxExtent":42}},
   "y2":{"datum":70}}},
 {"data":{"values":[{"r":30},{"r":70}]},
  "mark":{"type":"rule","color":"#a0a3ab","strokeDash":[4,3],"opacity":0.8},
  "encoding":{"y":{"field":"r","type":"quantitative","scale":{"domain":[13.3,94.7],"nice":false,"zero":false}}}},
 {"data":{"name":"rsi"},
  "mark":{"type":"line","color":"#f26f3f","strokeWidth":1},
  "encoding":{
   "x":{"field":"t","type":"quantitative","scale":{"domain":[0,890],"nice":false,"zero":false}},
   "y":{"field":"r","type":"quantitative","scale":{"domain":[13.3,94.7],"nice":false,"zero":false}}}},
 {"data":{"name":"rsidiv"},
  "mark":{"type":"rule","color":"#c62828","strokeWidth":1.5},
  "encoding":{
   "x":{"field":"t0","type":"quantitative","scale":{"domain":[0,890],"nice":false,"zero":false}},
   "x2":{"field":"t1"},
   "y":{"field":"r0","type":"quantitative","scale":{"domain":[13.3,94.7],"nice":false,"zero":false}},
   "y2":{"field":"r1"}}},
 {"data":{"name":"rsinote"},
  "mark":{"type":"point","shape":"arrow","angle":180,"size":170,"filled":true,"color":"#e53935","opacity":1},
  "encoding":{
   "x":{"field":"t","type":"quantitative","scale":{"domain":[0,890],"nice":false,"zero":false}},
   "y":{"field":"r","type":"quantitative","scale":{"domain":[13.3,94.7],"nice":false,"zero":false}}}},
 {"data":{"name":"rsinote"},
  "mark":{"type":"text","font":"Roboto","fontSize":11,"color":"#4a4e59","align":"left","baseline":"middle","dx":7},
  "encoding":{
   "x":{"field":"t","type":"quantitative","scale":{"domain":[0,890],"nice":false,"zero":false}},
   "y":{"field":"r","type":"quantitative","scale":{"domain":[13.3,94.7],"nice":false,"zero":false}},
   "text":{"field":"text"}}},
 {"data":{"values":[{"t":5,"r":79,"text":"RSI (14, close)"}]},
  "mark":{"type":"text","font":"Roboto","fontSize":9,"color":"#131722","align":"left","baseline":"middle"},
  "encoding":{
   "x":{"field":"t","type":"quantitative","scale":{"domain":[0,890],"nice":false,"zero":false}},
   "y":{"field":"r","type":"quantitative","scale":{"domain":[13.3,94.7],"nice":false,"zero":false}},
   "text":{"field":"text"}}}
]
}
]
}
